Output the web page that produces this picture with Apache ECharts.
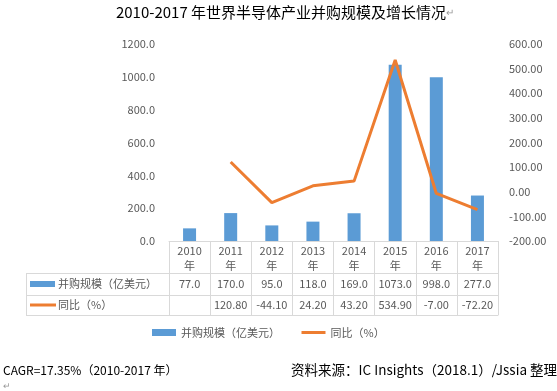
<!DOCTYPE html>
<html><head><meta charset="utf-8">
<script src="https://cdn.jsdelivr.net/npm/echarts@6/dist/echarts.min.js"></script>
<style>html,body{margin:0;padding:0;background:#fff}#c{width:557px;height:391px}</style>
</head><body><div id="c"></div>
<script>
var years = ['2010','2011','2012','2013','2014','2015','2016','2017'];
var mnaScale = [77.0,170.0,95.0,118.0,169.0,1073.0,998.0,277.0];
var yoy = [null,120.80,-44.10,24.20,43.20,534.90,-7.00,-72.20];
var seriesNames = ['并购规模（亿美元）','同比（%）'];
var titleText = '2010-2017 年世界半导体产业并购规模及增长情况';
var cagrText = 'CAGR=17.35%（2010-2017 年）';
var sourceText = '资料来源：IC Insights（2018.1）/Jssia 整理';

var FONT = '"Noto Sans CJK SC","Noto Sans",sans-serif';
var BLUE = '#5B9BD5', ORANGE = '#ED7D31', LINE = '#d9d9d9', TXT = '#595959';
var GL = 169, GR = 498, GT = 44, GB = 241;
var chart = echarts.init(document.getElementById('c'));
var baseAxis = {type:'category', data:years, position:'bottom', gridIndex:0,
  axisLine:{show:true,onZero:false,lineStyle:{color:LINE,width:1}}, axisTick:{show:false}};
chart.setOption({
  animation:false,
  textStyle:{fontFamily:FONT},
  title:{text:titleText+'{p|↵}', left:280, textAlign:'center', top:0,
    textStyle:{fontSize:15, fontWeight:'normal', color:'#000', fontFamily:FONT,
      rich:{p:{fontSize:10,color:'#999'}}}},
  grid:{left:GL, right:557-GR, top:GT, bottom:391-GB, containLabel:false},
  legend:{left:152, top:327, padding:0, itemWidth:24, itemHeight:7, itemGap:20,
    textStyle:{color:TXT, fontSize:11, fontFamily:FONT},
    data:[{name:seriesNames[0], icon:'rect'},
          {name:seriesNames[1], itemStyle:{color:'rgba(0,0,0,0)', borderWidth:0, opacity:0},
           lineStyle:{width:3, color:ORANGE}}]},
  xAxis:[
    Object.assign({}, baseAxis, {
      axisTick:{show:true, length:74, interval:0, lineStyle:{color:LINE}},
      axisLabel:{interval:0, margin:2, color:TXT, fontSize:11, lineHeight:15,
        formatter:function(v){return v+'\n年';}}}),
    Object.assign({}, baseAxis, {offset:32,
      axisLabel:{interval:0, margin:4, color:TXT, fontSize:11, lineHeight:14,
        formatter:function(v,i){return mnaScale[i].toFixed(1);}}}),
    Object.assign({}, baseAxis, {offset:54,
      axisLabel:{interval:0, margin:3, color:TXT, fontSize:11, lineHeight:14,
        formatter:function(v,i){return yoy[i]==null?'':yoy[i].toFixed(2);}}}),
    Object.assign({}, baseAxis, {offset:74, axisLabel:{show:false}})
  ],
  yAxis:[
    {type:'value', min:0, max:1200, interval:200, splitLine:{show:false},
     axisLine:{show:false}, axisTick:{show:false},
     axisLabel:{margin:14, color:TXT, fontSize:11, formatter:function(v){return v.toFixed(1);}}},
    {type:'value', min:-200, max:600, interval:100, splitLine:{show:false},
     axisLine:{show:false}, axisTick:{show:false}, position:'right',
     axisLabel:{margin:11, color:TXT, fontSize:11, formatter:function(v){return v.toFixed(2);}}}
  ],
  series:[
    {name:seriesNames[0], type:'bar', data:mnaScale, barWidth:13, xAxisIndex:0, yAxisIndex:0,
     itemStyle:{color:BLUE}},
    {name:seriesNames[1], type:'line', data:yoy, xAxisIndex:0, yAxisIndex:1, symbol:'none',
     connectNulls:false, lineStyle:{color:ORANGE, width:3}, itemStyle:{color:ORANGE}}
  ],
  graphic:[
    {type:'line', shape:{x1:26,y1:273.5,x2:GL,y2:273.5}, style:{stroke:LINE,lineWidth:1}},
    {type:'line', shape:{x1:26,y1:295.5,x2:GL,y2:295.5}, style:{stroke:LINE,lineWidth:1}},
    {type:'line', shape:{x1:26,y1:315.5,x2:GL,y2:315.5}, style:{stroke:LINE,lineWidth:1}},
    {type:'line', shape:{x1:26.5,y1:273,x2:26.5,y2:316}, style:{stroke:LINE,lineWidth:1}},
    {type:'rect', shape:{x:30,y:281,width:25,height:6}, style:{fill:BLUE}},
    {type:'text', x:58, y:284, style:{text:seriesNames[0], fill:TXT, font:'11px '+FONT, textVerticalAlign:'middle'}},
    {type:'line', shape:{x1:30,y1:305,x2:56,y2:305}, style:{stroke:ORANGE,lineWidth:3}},
    {type:'text', x:58, y:305, style:{text:seriesNames[1], fill:TXT, font:'11px '+FONT, textVerticalAlign:'middle'}},
    {type:'text', x:3, y:370, style:{text:cagrText, fill:'#000', font:'12px '+FONT, textVerticalAlign:'middle'}},
    {type:'text', x:557, y:370, style:{text:sourceText, fill:'#000', font:'13.5px '+FONT, textAlign:'right', textVerticalAlign:'middle'}},
    {type:'text', x:3, y:386, style:{text:'↵', fill:'#999', font:'9px '+FONT, textVerticalAlign:'middle'}}
  ]
});
</script></body></html>
